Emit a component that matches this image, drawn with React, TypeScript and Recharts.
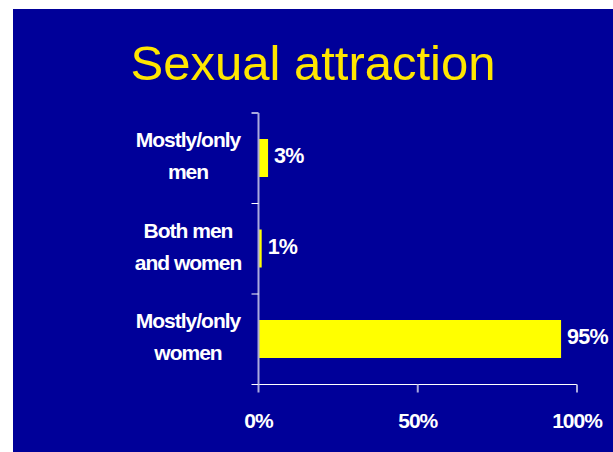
import { BarChart, Bar, XAxis, YAxis, LabelList } from "recharts";

// category labels (two lines each) and shares in percent
const categories = ["Mostly/only men", "Both men and women", "Mostly/only women"];
const labelLines = [
  ["Mostly/only", "men"],
  ["Both men", "and women"],
  ["Mostly/only", "women"],
];
const shares = [3, 1, 95];
const xTicks = [0, 50, 100];

const data = categories.map((name, i) => ({ name, value: shares[i], lines: labelLines[i] }));

const BG = "#000099";
const FONT = "'Liberation Sans', Arial, sans-serif";
const W = 600;
const H = 443;
const MARGIN = { top: 104, right: 36, bottom: 7.5, left: 0 };
const X_AXIS_H = 60;
const PLOT_H = H - MARGIN.top - MARGIN.bottom - X_AXIS_H;
const BAND = PLOT_H / categories.length;
const AXIS_PALE = "#aaaade";

const CategoryTick = (props: any) => {
  const { x, y, index, payload } = props;
  const lines = data.find((d) => d.name === payload.value)?.lines ?? [payload.value];
  return (
    <g>
      {index === 0 && (
        <line x1={x - 7} x2={x} y1={y - BAND / 2} y2={y - BAND / 2} stroke={AXIS_PALE} strokeWidth={2} />
      )}
      <line x1={x - 7} x2={x} y1={y + BAND / 2} y2={y + BAND / 2} stroke="#ffffff" strokeWidth={1} />
      <text
        x={x - 70.5}
        y={y}
        textAnchor="middle"
        fill="#ffffff"
        fontFamily={FONT}
        fontWeight={700}
        fontSize={21}
        letterSpacing={-1}
      >
        <tspan x={x - 70.5} dy={-11}>{lines[0]}</tspan>
        <tspan x={x - 70.5} dy={32}>{lines[1]}</tspan>
      </text>
    </g>
  );
};

const ValueLabel = (props: any) => {
  const { x, y, width, height, value } = props;
  return (
    <text
      x={x + width + 6}
      y={y + height / 2 + 5}
      fill="#ffffff"
      fontFamily={FONT}
      fontWeight={700}
      fontSize={21.5}
      letterSpacing={-0.8}
    >
      {`${value}%`}
    </text>
  );
};

export default function App() {
  return (
    <div
      style={{
        position: "fixed",
        left: 13,
        top: 9,
        width: W,
        height: H,
        background: BG,
        fontFamily: FONT,
      }}
    >
      <div
        style={{
          position: "absolute",
          left: 0,
          top: 29.5,
          width: W,
          textAlign: "center",
          fontSize: 49,
          lineHeight: "49px",
          color: "#ffe600",
        }}
      >
        Sexual attraction
      </div>
      <BarChart
        width={W}
        height={H}
        data={data}
        layout="vertical"
        margin={MARGIN}
        barSize={38}
        style={{ overflow: "visible" }}
      >
        <XAxis
          type="number"
          domain={[0, 100]}
          ticks={xTicks}
          height={X_AXIS_H}
          tickFormatter={(v) => `${v}%`}
          axisLine={{ stroke: "#ffffff", strokeWidth: 1 }}
          tickLine={{ stroke: AXIS_PALE, strokeWidth: 2 }}
          tickSize={8}
          tickMargin={21}
          tick={{ fill: "#ffffff", fontSize: 21, fontWeight: 700, fontFamily: FONT, letterSpacing: -1 }}
        />
        <YAxis
          type="category"
          dataKey="name"
          width={245.5}
          axisLine={{ stroke: AXIS_PALE, strokeWidth: 2 }}
          tickLine={false}
          tickSize={0}
          tickMargin={0}
          tick={<CategoryTick />}
          interval={0}
        />
        <Bar dataKey="value" fill="#ffff00" isAnimationActive={false}>
          <LabelList dataKey="value" content={<ValueLabel />} />
        </Bar>
      </BarChart>
    </div>
  );
}
